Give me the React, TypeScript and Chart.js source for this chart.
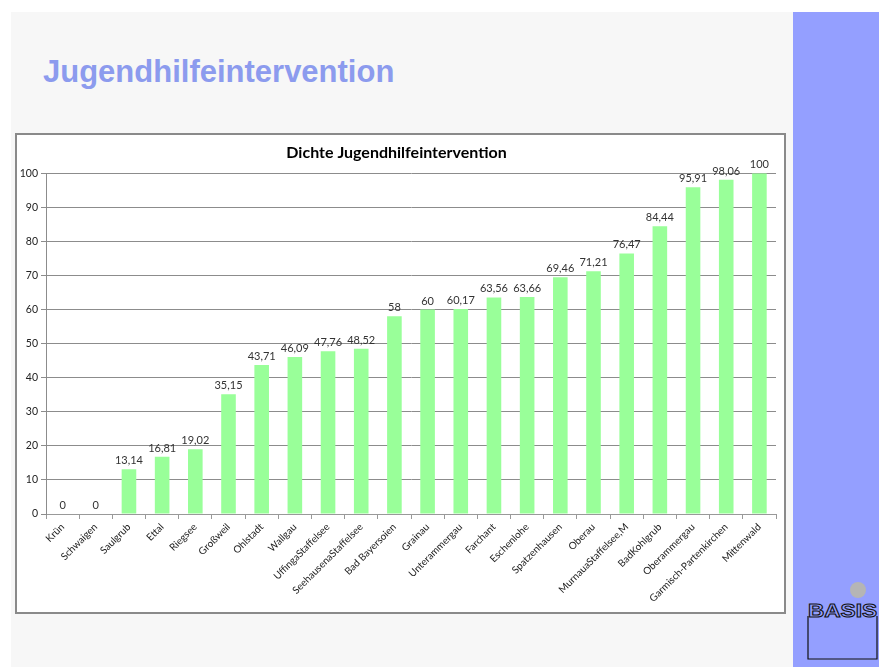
import React, { useEffect, useRef } from 'react';
import { Chart, registerables } from 'chart.js';

Chart.register(...registerables);

const pageTitle = 'Jugendhilfeintervention';
const chartTitle = 'Dichte Jugendhilfeintervention';

const categories = [
  'Krün',
  'Schwaigen',
  'Saulgrub',
  'Ettal',
  'Riegsee',
  'Großweil',
  'Ohlstadt',
  'Wallgau',
  'UffingaStaffelsee',
  'SeehausenaStaffelsee',
  'Bad Bayersoien',
  'Grainau',
  'Unterammergau',
  'Farchant',
  'Eschenlohe',
  'Spatzenhausen',
  'Oberau',
  'MurnauaStaffelsee,M',
  'BadKohlgrub',
  'Oberammergau',
  'Garmisch-Partenkirchen',
  'Mittenwald',
];

const values = [
  0, 0, 13.14, 16.81, 19.02, 35.15, 43.71, 46.09, 47.76, 48.52, 58, 60, 60.17,
  63.56, 63.66, 69.46, 71.21, 76.47, 84.44, 95.91, 98.06, 100,
];

const yMin = 0;
const yMax = 100;
const yStep = 10;

const fmt = (v: number) => String(v).replace('.', ',');

const barLabelPlugin = {
  id: 'barLabels',
  afterDatasetsDraw(chart: any) {
    const ctx = chart.ctx;
    const meta = chart.getDatasetMeta(0);
    ctx.save();
    ctx.font = '11px Lato';
    ctx.fillStyle = '#333333';
    ctx.textAlign = 'center';
    ctx.textBaseline = 'bottom';
    meta.data.forEach((el: any, i: number) => {
      ctx.fillText(fmt(values[i]), el.x, el.y - 3);
    });
    ctx.restore();
  },
};

function BarChart() {
  const ref = useRef<HTMLCanvasElement | null>(null);
  useEffect(() => {
    if (!ref.current) return;
    const chart = new Chart(ref.current, {
      type: 'bar',
      data: {
        labels: categories,
        datasets: [
          {
            data: values,
            backgroundColor: '#99ff99',
            borderWidth: 0,
            barPercentage: 0.44,
            categoryPercentage: 1,
          },
        ],
      },
      options: {
        responsive: false,
        animation: false,
        devicePixelRatio: 1,
        layout: { padding: { left: 0, right: 8, top: 0, bottom: 0 } },
        plugins: {
          legend: { display: false },
          tooltip: { enabled: false },
          title: {
            display: true,
            text: chartTitle,
            color: '#000000',
            font: { family: 'Lato', size: 16, weight: 'bold' },
            padding: { top: 8, bottom: 11 },
          },
        },
        scales: {
          x: {
            grid: {
              display: true,
              drawOnChartArea: false,
              drawTicks: true,
              tickLength: 5,
              color: '#999999',
              offset: true,
            },
            border: { color: '#999999' },
            ticks: {
              font: { family: 'Lato', size: 10 },
              color: '#222222',
              maxRotation: 45,
              minRotation: 45,
              autoSkip: false,
              padding: 2,
            },
            afterFit: (s: any) => {
              s.height = 98;
            },
          },
          y: {
            min: yMin,
            max: yMax,
            ticks: {
              stepSize: yStep,
              font: { family: 'Lato', size: 10.5 },
              color: '#222222',
              padding: 3,
            },
            grid: { color: '#8c8c8c', tickLength: 5 },
            border: { color: '#8c8c8c' },
            afterFit: (s: any) => {
              s.width = 29;
            },
          },
        },
      },
      plugins: [barLabelPlugin],
    } as any);
    return () => chart.destroy();
  }, []);
  return <canvas ref={ref} width={767} height={477} style={{ display: 'block' }} />;
}

export default function App() {
  return (
    <div
      style={{
        position: 'fixed',
        left: 0,
        top: 0,
        width: 879,
        height: 667,
        background: '#ffffff',
        overflow: 'hidden',
      }}
    >
      <div
        style={{
          position: 'absolute',
          left: 11,
          top: 12,
          width: 782,
          height: 655,
          background: '#f7f7f7',
        }}
      />
      <div
        style={{
          position: 'absolute',
          left: 793,
          top: 12,
          width: 86,
          height: 655,
          background: '#949fff',
        }}
      />
      <div
        style={{
          position: 'absolute',
          left: 43,
          top: 54,
          fontFamily: '"Liberation Sans", Arial, sans-serif',
          fontWeight: 'bold',
          fontSize: 31,
          lineHeight: '36px',
          color: '#8c9bee',
          whiteSpace: 'nowrap',
        }}
      >
        {pageTitle}
      </div>
      <div
        style={{
          position: 'absolute',
          left: 15,
          top: 133,
          width: 771,
          height: 481,
          boxSizing: 'border-box',
          border: '2px solid #8a8a8a',
          background: '#ffffff',
        }}
      >
        <BarChart />
      </div>
      <svg
        style={{ position: 'absolute', left: 800, top: 578 }}
        width={79}
        height={89}
      >
        <circle cx={58} cy={12} r={8} fill="#b5b5b5" />
        <text
          x={8}
          y={39}
          fontFamily='"Liberation Sans Narrow", "Liberation Sans", Arial, sans-serif'
          fontWeight="bold"
          fontSize={19}
          textLength={69}
          lengthAdjust="spacingAndGlyphs"
          fill="none"
          stroke="#111111"
          strokeWidth={1}
        >
          BASIS
        </text>
        <path d="M8,38 V81 H77 V38" fill="none" stroke="#111111" strokeWidth={1.2} />
      </svg>
    </div>
  );
}
